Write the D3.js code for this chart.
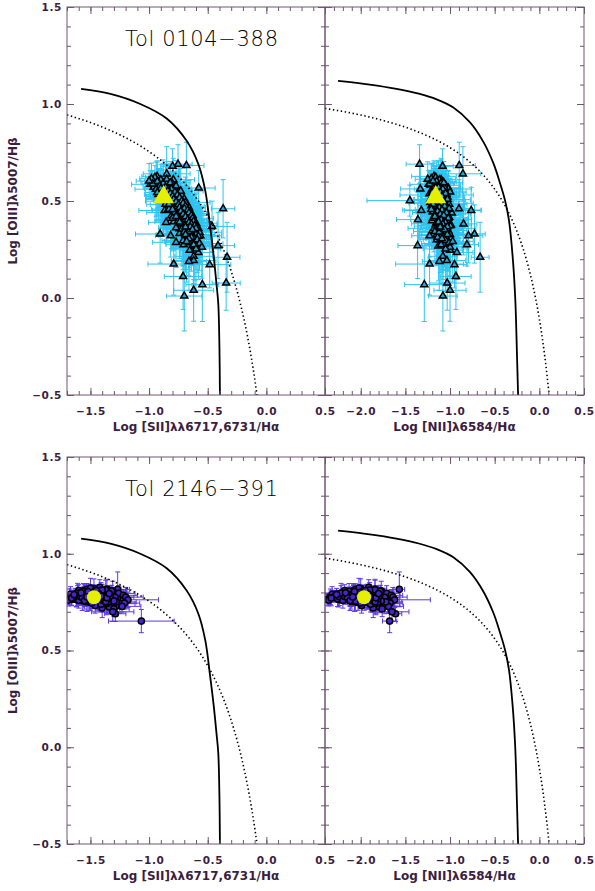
<!DOCTYPE html>
<html lang="en">
<head>
    <title>BPT diagrams: Tol 0104-388 and Tol 2146-391</title>
    <script src="https://d3js.org/d3.v7.min.js" charset="utf-8"></script>
    <style>
    body {
        margin: 0;
        background: #fff;
    }
    svg text {
        font-family: "DejaVu Sans", sans-serif;
    }
    </style>
</head>
<body>
    <script>

    // ---- Tol 0104-388 spaxels (log line ratios and errors) ----
    var tolA_o3 = [0.690,0.683,0.679,0.640,0.627,0.610,0.567,0.562,0.460,0.451,0.451,0.404,0.390,0.382,0.369,0.357,0.330,0.321,0.321,0.305,0.301,0.287,0.275,0.270,0.266,0.246,0.235,0.215,0.210,0.193,0.189,0.175,0.172,0.111,0.077,0.069,0.040,0.010,
        0.622,0.609,0.604,0.598,0.596,0.588,0.583,0.581,0.573,0.571,0.563,0.559,0.556,0.548,0.547,0.538,0.536,0.529,0.524,0.521,0.514,0.511,0.503,0.502,0.494,0.489,0.487,0.478,0.476,0.468,0.466,0.459,0.456,0.449,0.446,0.438,0.436,0.429,0.427,0.418,0.416,0.409,0.406,0.398,0.397,0.388,0.386,0.379,0.376,0.368,0.366,0.358,0.357,0.348,0.346,0.339,0.337,0.328,0.326,0.318,0.309,0.301,0.288,0.281,0.268,0.262,
        0.615,0.601,0.592,0.586,0.577,0.568,0.561,0.552,0.543,0.534,0.527,0.518,0.508,0.499,0.492,0.483,0.474,0.463,0.452,0.443,0.433,0.424,0.413,0.402,0.393,0.383,0.373,0.362,0.352,0.343,0.333,0.323,0.313,0.296,0.285,0.275,0.612,0.594,0.578,0.566,0.551,0.537,0.523,0.507,0.493,0.481,0.471,0.458,0.441,0.428,0.412,0.399,0.384,0.371,0.356,0.341,0.327,0.306,0.292,0.253,
        0.571,0.562,0.553,0.546,0.539,0.531,0.525,0.517,0.509,0.501,0.496,0.488,0.481,0.473,0.467,0.461,0.454,0.447,0.439,0.432,0.426,0.419,0.411,0.404,0.396,0.389,0.381,0.374,0.367,0.359,0.353,0.544,0.512,0.484,0.457,0.421,0.392,0.366,0.588,0.603];
    var tolA_o3err = [0.10,0.12,0.09,0.14,0.08,0.11,0.09,0.13,0.15,0.10,0.12,0.14,0.09,0.16,0.13,0.10,0.15,0.11,0.14,0.12,0.10,0.13,0.11,0.17,0.12,0.09,0.14,0.12,0.18,0.13,0.15,0.16,0.12,0.17,0.14,0.19,0.16,0.18,
        0.06,0.08,0.05,0.09,0.07,0.10,0.06,0.08,0.11,0.07,0.09,0.06,0.08,0.12,0.07,0.09,0.10,0.06,0.08,0.11,0.07,0.09,0.13,0.08,0.10,0.07,0.09,0.12,0.08,0.10,0.14,0.09,0.11,0.08,0.12,0.10,0.09,0.13,0.11,0.10,0.14,0.09,0.12,0.11,0.13,0.10,0.15,0.12,0.11,0.14,0.13,0.12,0.16,0.11,0.14,0.13,0.15,0.12,0.16,0.14,0.13,0.17,0.15,0.14,0.18,0.16,
        0.08,0.10,0.12,0.07,0.09,0.11,0.14,0.08,0.10,0.13,0.09,0.12,0.15,0.10,0.11,0.13,0.16,0.09,0.12,0.14,0.11,0.17,0.10,0.13,0.15,0.12,0.18,0.11,0.14,0.16,0.13,0.19,0.12,0.15,0.17,0.20,0.09,0.11,0.13,0.10,0.12,0.14,0.11,0.16,0.13,0.10,0.15,0.12,0.18,0.14,0.16,0.13,0.17,0.15,0.19,0.14,0.18,0.16,0.21,0.22,
        0.07,0.09,0.08,0.10,0.06,0.11,0.08,0.09,0.12,0.07,0.10,0.08,0.11,0.13,0.09,0.10,0.12,0.08,0.11,0.14,0.10,0.12,0.09,0.13,0.11,0.15,0.10,0.12,0.14,0.11,0.13,0.08,0.09,0.10,0.11,0.12,0.13,0.14,0.07,0.09];
    var tolA_s2 = [-0.753,-0.682,-0.80,-0.85,-0.932,-0.793,-0.577,-0.88,-0.369,-0.867,-0.70,-0.72,-0.855,-0.60,-0.463,-0.739,-0.906,-0.816,-0.563,-0.639,-0.68,-0.770,-0.705,-0.412,-0.60,-0.654,-0.58,-0.620,-0.335,-0.62,-0.66,-0.79,-0.483,-0.710,-0.343,-0.546,-0.62,-0.70,
        -0.95,-0.90,-0.97,-0.86,-0.92,-0.80,-0.95,-0.88,-0.83,-0.96,-0.78,-0.90,-0.85,-0.75,-0.82,-0.88,-0.79,-0.72,-0.84,-0.77,-0.80,-0.70,-0.76,-0.82,-0.73,-0.78,-0.68,-0.75,-0.80,-0.71,-0.66,-0.76,-0.70,-0.74,-0.65,-0.72,-0.68,-0.76,-0.63,-0.70,-0.66,-0.73,-0.62,-0.68,-0.71,-0.64,-0.60,-0.67,-0.70,-0.62,-0.65,-0.58,-0.68,-0.61,-0.64,-0.57,-0.66,-0.60,-0.63,-0.58,-0.62,-0.59,-0.64,-0.57,-0.61,-0.55,
        -0.98,-0.93,-0.88,-0.99,-0.91,-0.84,-0.94,-0.87,-0.81,-0.92,-0.86,-0.79,-0.89,-0.83,-0.76,-0.86,-0.81,-0.74,-0.84,-0.78,-0.72,-0.81,-0.75,-0.69,-0.79,-0.73,-0.67,-0.77,-0.71,-0.66,-0.74,-0.69,-0.64,-0.71,-0.66,-0.62,-0.85,-0.82,-0.77,-0.90,-0.73,-0.80,-0.86,-0.74,-0.69,-0.81,-0.76,-0.83,-0.78,-0.72,-0.80,-0.75,-0.73,-0.68,-0.72,-0.70,-0.69,-0.66,-0.68,-0.60,
        -0.86,-0.81,-0.84,-0.78,-0.82,-0.76,-0.80,-0.74,-0.79,-0.72,-0.77,-0.71,-0.75,-0.69,-0.74,-0.70,-0.67,-0.73,-0.66,-0.71,-0.64,-0.69,-0.63,-0.67,-0.62,-0.66,-0.64,-0.61,-0.65,-0.60,-0.63,-0.93,-0.89,-0.83,-0.80,-0.77,-0.74,-0.69,-0.97,-1.00];
    var tolA_s2err = [0.12,0.15,0.10,0.20,0.13,0.18,0.14,0.16,0.10,0.22,0.12,0.17,0.15,0.11,0.19,0.14,0.21,0.13,0.18,0.16,0.12,0.20,0.15,0.14,0.17,0.09,0.13,0.16,0.11,0.19,0.15,0.22,0.18,0.16,0.12,0.14,0.17,0.15,
        0.08,0.10,0.07,0.12,0.09,0.11,0.08,0.13,0.10,0.09,0.14,0.08,0.11,0.12,0.10,0.09,0.13,0.11,0.08,0.15,0.10,0.12,0.09,0.14,0.11,0.13,0.10,0.16,0.12,0.09,0.14,0.11,0.13,0.10,0.15,0.12,0.17,0.11,0.14,0.13,0.10,0.16,0.12,0.15,0.11,0.14,0.18,0.13,0.12,0.16,0.14,0.11,0.17,0.15,0.13,0.19,0.12,0.16,0.14,0.18,0.15,0.13,0.17,0.20,0.14,0.16,
        0.10,0.14,0.12,0.16,0.09,0.13,0.18,0.11,0.15,0.12,0.17,0.10,0.14,0.20,0.12,0.16,0.11,0.19,0.13,0.15,0.22,0.14,0.12,0.18,0.16,0.13,0.21,0.15,0.17,0.19,0.14,0.23,0.16,0.18,0.20,0.15,0.12,0.17,0.10,0.14,0.19,0.13,0.16,0.11,0.21,0.18,0.12,0.15,0.24,0.17,0.14,0.20,0.16,0.22,0.13,0.18,0.25,0.15,0.19,0.21,
        0.09,0.12,0.10,0.14,0.08,0.11,0.13,0.10,0.15,0.12,0.09,0.14,0.11,0.16,0.10,0.13,0.12,0.17,0.11,0.14,0.15,0.12,0.18,0.13,0.11,0.16,0.14,0.19,0.12,0.15,0.17,0.10,0.13,0.11,0.14,0.12,0.16,0.15,0.09,0.11];
    var tolA_n2 = [-1.341,-0.897,-1.084,-0.856,-1.18,-1.10,-1.02,-1.333,-0.90,-1.322,-0.763,-1.359,-1.15,-0.849,-1.05,-1.10,-0.726,-1.229,-0.793,-1.12,-1.147,-1.06,-0.811,-1.363,-1.035,-1.00,-0.923,-1.08,-0.663,-1.035,-1.12,-1.229,-0.950,-0.934,-1.032,-1.288,-1.00,-1.08,
        -1.16,-1.12,-1.20,-1.08,-1.14,-1.10,-1.22,-1.05,-1.17,-1.12,-1.02,-1.19,-1.09,-1.14,-1.00,-1.23,-1.11,-1.06,-1.16,-1.03,-1.20,-1.09,-1.13,-1.45,-1.18,-1.07,-1.12,-1.04,-1.21,-1.10,-1.02,-1.15,-1.06,-1.19,-1.08,-0.98,-1.13,-1.05,-1.17,-1.09,-1.01,-1.14,-1.06,-1.20,-1.03,-1.11,-1.07,-1.16,-0.99,-1.12,-1.05,-1.18,-1.08,-1.02,-1.13,-1.06,-1.10,-1.00,-1.15,-1.08,-1.04,-1.11,-1.02,-1.07,-1.13,-1.00,
        -1.21,-1.15,-1.10,-1.24,-1.18,-1.06,-1.13,-1.20,-1.08,-1.16,-1.11,-1.04,-1.22,-1.09,-1.14,-1.01,-1.17,-1.07,-1.12,-1.19,-1.05,-1.10,-1.15,-1.03,-1.08,-1.13,-1.00,-1.11,-1.06,-1.17,-1.03,-1.09,-1.14,-1.05,-1.01,-1.10,-1.25,-1.07,-1.13,-1.18,-1.11,-1.04,-1.16,-1.09,-1.22,-1.06,-1.12,-1.02,-1.15,-1.08,-1.19,-1.04,-1.10,-1.14,-1.07,-1.12,-1.03,-1.09,-0.97,-1.05,
        -1.13,-1.08,-1.17,-1.11,-1.05,-1.15,-1.09,-1.12,-1.03,-1.14,-1.07,-1.10,-1.18,-1.06,-1.12,-1.01,-1.09,-1.14,-1.04,-1.11,-1.07,-1.16,-1.02,-1.10,-1.13,-1.05,-1.08,-1.12,-1.03,-1.09,-1.06,-1.20,-1.15,-1.19,-1.21,-1.17,-1.13,-1.11,-1.23,-1.19];
    var tolA_n2err = [0.15,0.18,0.12,0.20,0.25,0.16,0.14,0.22,0.13,0.19,0.11,0.24,0.17,0.15,0.21,0.18,0.12,0.20,0.16,0.23,0.19,0.15,0.13,0.22,0.17,0.14,0.18,0.16,0.10,0.21,0.19,0.38,0.14,0.17,0.20,0.22,0.18,0.16,
        0.10,0.13,0.09,0.15,0.11,0.14,0.12,0.17,0.10,0.13,0.16,0.11,0.14,0.12,0.18,0.10,0.15,0.13,0.11,0.19,0.12,0.16,0.14,0.48,0.13,0.17,0.12,0.20,0.15,0.11,0.18,0.14,0.16,0.12,0.21,0.15,0.13,0.19,0.16,0.14,0.22,0.12,0.17,0.15,0.20,0.13,0.18,0.16,0.23,0.14,0.19,0.17,0.15,0.21,0.18,0.16,0.24,0.14,0.20,0.17,0.22,0.19,0.16,0.25,0.18,0.21,
        0.12,0.18,0.15,0.21,0.13,0.17,0.24,0.14,0.19,0.16,0.22,0.13,0.18,0.26,0.15,0.20,0.14,0.23,0.17,0.19,0.28,0.16,0.14,0.21,0.19,0.30,0.17,0.22,0.15,0.24,0.18,0.27,0.20,0.16,0.23,0.19,0.14,0.21,0.13,0.17,0.25,0.15,0.20,0.32,0.18,0.22,0.16,0.19,0.27,0.21,0.17,0.24,0.20,0.26,0.15,0.22,0.29,0.18,0.23,0.25,
        0.11,0.32,0.13,0.18,0.10,0.41,0.16,0.12,0.19,0.15,0.11,0.36,0.14,0.20,0.13,0.16,0.44,0.21,0.14,0.18,0.19,0.15,0.22,0.34,0.14,0.20,0.18,0.23,0.16,0.38,0.21,0.13,0.16,0.14,0.18,0.15,0.20,0.19,0.12,0.14];

    // ---- Tol 2146-391 spaxels ----
    var tolB_o3 = [0.652,0.816,0.690,0.764,0.780,0.775,0.790,0.770,0.785,0.760,0.795,0.800,0.805,0.810,0.765,0.755,0.750,0.745,0.740,0.735,0.772,0.768,0.782,0.792,0.798,0.815,0.820,0.812,0.788,0.778,0.762,0.752,0.748,0.758,0.742,0.730,0.725,0.738,0.803,0.808,0.795,0.785,0.776,0.762,0.745,0.772,0.795,0.783,0.767,0.788,0.773,0.757,0.818,0.826,0.810,0.733,0.720,0.715,0.728,0.700,0.760,0.790,0.780,0.770,
        0.781,0.794,0.769,0.803,0.757,0.786,0.774,0.811,0.763,0.799,0.777,0.752,0.791,0.766,0.806,0.784,0.771,0.748,0.797,0.779,0.761,0.789,0.813,0.754,0.775,0.802,0.767,0.743,0.793,0.783,0.759,0.807,0.771,0.787,0.751,0.796,0.764,0.779,0.823,0.739,0.782,0.769,0.801,0.756,0.791,0.776,0.812,0.749,0.786,0.766,
        0.778,0.791,0.767,0.784,0.802,0.759,0.773,0.796,0.781,0.764,0.788,0.807,0.771,0.755,0.793,0.779,0.766,0.799,0.785,0.761,0.774,0.809,0.787,0.752,0.797,0.769,0.783,0.758,0.792,0.776,0.804,0.763,0.789,0.772,0.746,0.798,0.781,0.768,0.794,0.777];
    var tolB_o3err = [0.06,0.09,0.04,0.03,0.03,0.02,0.03,0.04,0.02,0.03,0.03,0.04,0.02,0.03,0.04,0.03,0.02,0.04,0.03,0.05,0.03,0.04,0.02,0.03,0.04,0.03,0.05,0.03,0.02,0.04,0.03,0.02,0.04,0.03,0.05,0.04,0.03,0.04,0.03,0.05,0.04,0.03,0.05,0.04,0.03,0.02,0.04,0.03,0.02,0.03,0.04,0.03,0.05,0.04,0.03,0.04,0.05,0.04,0.03,0.05,0.03,0.04,0.02,0.03,
        0.03,0.02,0.04,0.03,0.05,0.02,0.03,0.04,0.03,0.02,0.04,0.05,0.03,0.02,0.04,0.03,0.05,0.04,0.03,0.02,0.04,0.03,0.05,0.04,0.03,0.02,0.04,0.05,0.03,0.04,0.02,0.03,0.04,0.05,0.03,0.04,0.02,0.03,0.05,0.04,0.03,0.04,0.02,0.05,0.03,0.04,0.03,0.02,0.04,0.05,
        0.03,0.02,0.04,0.03,0.02,0.04,0.03,0.05,0.02,0.03,0.04,0.03,0.02,0.05,0.03,0.04,0.02,0.03,0.04,0.05,0.03,0.02,0.04,0.03,0.05,0.02,0.04,0.03,0.02,0.04,0.03,0.05,0.02,0.04,0.03,0.02,0.05,0.03,0.04,0.02];
    var tolB_s2 = [-1.066,-1.268,-1.288,-1.66,-1.60,-1.55,-1.52,-1.45,-1.48,-1.42,-1.58,-1.50,-1.44,-1.55,-1.62,-1.38,-1.40,-1.35,-1.32,-1.36,-1.30,-1.27,-1.33,-1.40,-1.46,-1.53,-1.47,-1.41,-1.65,-1.68,-1.57,-1.50,-1.44,-1.29,-1.25,-1.28,-1.34,-1.39,-1.37,-1.31,-1.26,-1.22,-1.20,-1.18,-1.21,-1.63,-1.61,-1.56,-1.53,-1.43,-1.39,-1.34,-1.36,-1.42,-1.60,-1.46,-1.40,-1.30,-1.23,-1.31,-1.69,-1.67,-1.49,-1.37,
        -1.64,-1.59,-1.54,-1.49,-1.57,-1.44,-1.51,-1.41,-1.61,-1.47,-1.38,-1.53,-1.35,-1.46,-1.56,-1.33,-1.43,-1.50,-1.40,-1.58,-1.31,-1.48,-1.37,-1.55,-1.29,-1.45,-1.62,-1.36,-1.42,-1.52,-1.39,-1.32,-1.66,-1.47,-1.28,-1.54,-1.44,-1.34,-1.50,-1.41,-1.59,-1.37,-1.45,-1.30,-1.63,-1.49,-1.40,-1.35,-1.57,-1.43,
        -1.62,-1.58,-1.55,-1.51,-1.47,-1.60,-1.44,-1.53,-1.49,-1.41,-1.56,-1.46,-1.38,-1.52,-1.43,-1.59,-1.35,-1.48,-1.54,-1.40,-1.57,-1.45,-1.50,-1.37,-1.61,-1.42,-1.33,-1.55,-1.47,-1.39,-1.52,-1.44,-1.64,-1.36,-1.49,-1.58,-1.41,-1.46,-1.34,-1.53];
    var tolB_s2err = [0.28,0.10,0.09,0.12,0.08,0.06,0.07,0.09,0.05,0.08,0.10,0.07,0.09,0.06,0.11,0.08,0.07,0.10,0.09,0.12,0.11,0.10,0.08,0.07,0.06,0.09,0.10,0.08,0.12,0.13,0.07,0.06,0.08,0.11,0.13,0.10,0.09,0.08,0.10,0.12,0.14,0.12,0.15,0.26,0.13,0.09,0.08,0.07,0.06,0.09,0.10,0.11,0.12,0.09,0.08,0.10,0.11,0.13,0.16,0.18,0.10,0.09,0.07,0.08,
        0.08,0.06,0.10,0.07,0.09,0.12,0.06,0.11,0.08,0.07,0.13,0.09,0.10,0.06,0.08,0.14,0.07,0.11,0.09,0.12,0.15,0.08,0.10,0.07,0.16,0.09,0.11,0.12,0.08,0.06,0.10,0.13,0.09,0.07,0.17,0.08,0.11,0.12,0.06,0.09,0.10,0.13,0.07,0.14,0.08,0.06,0.11,0.12,0.09,0.10,
        0.07,0.09,0.06,0.10,0.08,0.11,0.07,0.09,0.12,0.06,0.10,0.08,0.13,0.07,0.09,0.11,0.06,0.10,0.08,0.12,0.07,0.09,0.11,0.06,0.10,0.08,0.13,0.07,0.09,0.11,0.08,0.10,0.06,0.12,0.09,0.07,0.11,0.08,0.10,0.06];
    var tolB_n2 = [-1.676,-1.568,-1.610,-2.375,-2.20,-2.10,-2.05,-1.95,-2.00,-1.90,-2.15,-2.02,-1.97,-2.08,-2.25,-1.85,-1.88,-1.80,-1.78,-1.83,-1.75,-1.72,-1.82,-1.92,-1.98,-2.06,-2.00,-1.93,-2.30,-2.34,-2.12,-2.03,-1.96,-1.74,-1.70,-1.73,-1.79,-1.87,-1.86,-1.77,-1.71,-1.66,-1.64,-1.62,-1.67,-2.28,-2.22,-2.14,-2.07,-1.94,-1.89,-1.81,-1.84,-1.91,-2.18,-1.99,-1.86,-1.76,-1.69,-1.65,-2.36,-2.32,-2.01,-1.84,
        -2.29,-2.17,-2.09,-2.01,-2.12,-1.95,-2.04,-1.90,-2.24,-1.99,-1.86,-2.07,-1.82,-1.97,-2.13,-1.79,-1.93,-2.03,-1.88,-2.19,-1.76,-2.00,-1.84,-2.11,-1.73,-1.96,-2.26,-1.83,-1.91,-2.06,-1.87,-1.78,-2.33,-1.98,-1.72,-2.08,-1.94,-1.80,-2.02,-1.89,-2.21,-1.85,-1.96,-1.77,-2.27,-2.00,-1.90,-1.81,-2.16,-1.92,
        -2.24,-2.16,-2.11,-2.05,-1.99,-2.20,-1.94,-2.08,-2.02,-1.89,-2.13,-1.97,-1.85,-2.06,-1.92,-2.18,-1.81,-2.01,-2.10,-1.88,-2.15,-1.95,-2.04,-1.84,-2.22,-1.91,-1.79,-2.12,-1.98,-1.86,-2.07,-1.93,-2.27,-1.83,-2.00,-2.17,-1.90,-1.96,-1.80,-2.09];
    var tolB_n2err = [0.08,0.06,0.07,0.12,0.09,0.07,0.08,0.10,0.06,0.09,0.11,0.08,0.10,0.07,0.12,0.09,0.08,0.11,0.10,0.13,0.12,0.11,0.09,0.08,0.07,0.10,0.11,0.09,0.13,0.14,0.08,0.07,0.09,0.12,0.14,0.11,0.10,0.09,0.11,0.13,0.15,0.13,0.16,0.40,0.14,0.10,0.09,0.08,0.07,0.10,0.11,0.12,0.13,0.10,0.09,0.11,0.12,0.14,0.17,0.19,0.11,0.10,0.08,0.09,
        0.09,0.07,0.11,0.08,0.10,0.13,0.07,0.12,0.09,0.08,0.14,0.10,0.11,0.07,0.09,0.15,0.08,0.12,0.10,0.13,0.16,0.09,0.11,0.08,0.17,0.10,0.12,0.13,0.09,0.07,0.11,0.14,0.10,0.08,0.18,0.09,0.12,0.13,0.07,0.10,0.11,0.14,0.08,0.15,0.09,0.07,0.12,0.13,0.10,0.11,
        0.08,0.10,0.07,0.11,0.09,0.12,0.08,0.10,0.13,0.07,0.11,0.09,0.14,0.08,0.10,0.12,0.07,0.11,0.09,0.13,0.08,0.10,0.12,0.07,0.11,0.09,0.14,0.08,0.10,0.12,0.09,0.11,0.07,0.13,0.10,0.08,0.12,0.09,0.11,0.07];

    // integrated values (big yellow symbols): [Tol 0104-388, Tol 2146-391]
    var integ_o3 = [0.520, 0.775];
    var integ_s2 = [-0.876, -1.470];
    var integ_n2 = [-1.160, -1.963];

    // solid demarcation curves
    var solid_s2 = [[-1.58,1.078],[-1.33,1.052],[-1.075,1.000],[-0.85,0.925],[-0.68,0.810],[-0.58,0.690],[-0.52,0.550],[-0.48,0.370],[-0.45,0.220],[-0.425,0.070],[-0.41,-0.030],[-0.40,-0.260],[-0.396,-0.50]];
    var solid_n2 = [[-2.254,1.119],[-1.90,1.100],[-1.60,1.078],[-1.35,1.053],[-1.15,1.024],[-0.963,0.982],[-0.776,0.905],[-0.627,0.805],[-0.515,0.695],[-0.44,0.592],[-0.384,0.503],[-0.34,0.400],[-0.30,0.220],[-0.27,0.000],[-0.25,-0.300],[-0.238,-0.50]];

    // Kewley et al. (2001) maximum starburst lines: y = a/(x - b) + c
    var kewley_s2 = {a: 0.72, b: 0.32, c: 1.30};
    var kewley_n2 = {a: 0.61, b: 0.47, c: 1.19};

    var xTicks_s2 = [-1.5, -1.0, -0.5, 0.0, 0.5];
    var xTicks_n2 = [-2.0, -1.5, -1.0, -0.5, 0.0, 0.5];
    var yTicks = [-0.5, 0.0, 0.5, 1.0, 1.5];

    var titles = ["Tol 0104\u2212388", "Tol 2146\u2212391"];

    // ---------------------------------------------------------------
    var width = 595, height = 891;
    var axisColor = "#6e5670", labelColor = "#3b1d3f";

    var cols = [
        {x0: 67, x1: 325, dom: [-1.7, 0.5], ticks: xTicks_s2, key: "s2", label: "Log [SII]\u03bb\u03bb6717,6731/H\u03b1", kew: kewley_s2, solid: solid_s2},
        {x0: 325, x1: 584, dom: [-2.4, 0.5], ticks: xTicks_n2, key: "n2", label: "Log [NII]\u03bb6584/H\u03b1", kew: kewley_n2, solid: solid_n2}
    ];
    var rows = [
        {y0: 7, y1: 395, marker: "tri", bar: "#30c4f0", fill: "#2ba3d0"},
        {y0: 457, y1: 844, marker: "circ", bar: "#5a38e6", fill: "#4724cf"}
    ];

    var galaxies = [
        {o3: tolA_o3, o3e: tolA_o3err, s2: tolA_s2, s2e: tolA_s2err, n2: tolA_n2, n2e: tolA_n2err},
        {o3: tolB_o3, o3e: tolB_o3err, s2: tolB_s2, s2e: tolB_s2err, n2: tolB_n2, n2e: tolB_n2err}
    ];

    var svg = d3.select("body")
        .append("svg")
        .attr("width", width)
        .attr("height", height);

    var fmt = d3.format(".1f");

    function styleAxis(g, labels) {
        g.select(".domain").remove();
        g.selectAll("line").attr("stroke", axisColor).attr("stroke-width", 1);
        g.selectAll("text")
            .attr("fill", labelColor)
            .attr("font-size", "10.5px")
            .attr("font-weight", "bold")
            .attr("letter-spacing", "0.6px");
        if (!labels) g.selectAll("text").remove();
    }

    rows.forEach(function(row, ri) {
        var gal = galaxies[ri];
        var n = gal.o3.length;

        cols.forEach(function(col, ci) {
            var x = d3.scaleLinear().domain(col.dom).range([col.x0, col.x1]);
            var y = d3.scaleLinear().domain([-0.5, 1.5]).range([row.y1, row.y0]);
            var g = svg.append("g");
            var clipId = "clip" + ri + ci;

            svg.append("clipPath").attr("id", clipId)
                .append("rect")
                .attr("x", col.x0).attr("y", row.y0)
                .attr("width", col.x1 - col.x0).attr("height", row.y1 - row.y0);

            var plot = g.append("g").attr("clip-path", "url(#" + clipId + ")");

            // spaxel data for this panel
            var pts = [];
            for (var i = 0; i < n; i++) {
                pts.push({x: gal[col.key][i], xe: gal[col.key + "e"][i], y: gal.o3[i], ye: gal.o3e[i]});
            }

            var cap = 2.5;
            plot.append("g").selectAll("path")
                .data(pts)
                .enter()
                .append("path")
                .attr("fill", "none")
                .attr("stroke", row.bar)
                .attr("stroke-width", 1)
                .attr("d", function(d) {
                    var px = x(d.x), py = y(d.y);
                    var xl = x(d.x - d.xe), xr = x(d.x + d.xe);
                    var yt = y(d.y + d.ye), yb = y(d.y - d.ye);
                    return "M" + xl + "," + py + "H" + xr +
                        "M" + xl + "," + (py - cap) + "V" + (py + cap) +
                        "M" + xr + "," + (py - cap) + "V" + (py + cap) +
                        "M" + px + "," + yt + "V" + yb +
                        "M" + (px - cap) + "," + yt + "H" + (px + cap) +
                        "M" + (px - cap) + "," + yb + "H" + (px + cap);
                });

            var sym = row.marker == "tri" ? d3.symbolTriangle : d3.symbolCircle;
            var small = row.marker == "tri" ? 22 : 30;
            var big = row.marker == "tri" ? 190 : 155;

            plot.append("g").selectAll("path")
                .data(pts)
                .enter()
                .append("path")
                .attr("transform", function(d) { return "translate(" + x(d.x) + "," + y(d.y) + ")"; })
                .attr("d", d3.symbol(sym, small))
                .attr("fill", row.fill)
                .attr("stroke", "#000")
                .attr("stroke-width", 1.5);

            // curves
            var line = d3.line()
                .x(function(d) { return x(d[0]); })
                .y(function(d) { return y(d[1]); });

            var k = col.kew;
            var xEnd = k.b + k.a / (-0.5 - k.c);
            var kx = d3.range(col.dom[0], xEnd, 0.01).concat([xEnd]);
            plot.append("path")
                .datum(kx.map(function(v) { return [v, k.a / (v - k.b) + k.c]; }))
                .attr("fill", "none")
                .attr("stroke", "#000")
                .attr("stroke-width", 1.6)
                .attr("stroke-dasharray", "1.4,2.6")
                .attr("d", line);

            plot.append("path")
                .datum(col.solid)
                .attr("fill", "none")
                .attr("stroke", "#000")
                .attr("stroke-width", 1.8)
                .attr("d", line.curve(d3.curveCatmullRom));

            // integrated measurement
            var intX = ci == 0 ? integ_s2[ri] : integ_n2[ri];
            plot.append("path")
                .attr("transform", "translate(" + x(intX) + "," + y(integ_o3[ri]) + ")")
                .attr("d", d3.symbol(sym, big))
                .attr("fill", "#e4f000");

            // frame
            g.append("rect")
                .attr("x", col.x0).attr("y", row.y0)
                .attr("width", col.x1 - col.x0).attr("height", row.y1 - row.y0)
                .attr("fill", "none")
                .attr("stroke", axisColor)
                .attr("stroke-width", 1);

            // ticks on all four sides, pointing inwards
            var xMinor = d3.range(Math.round(col.dom[0] * 10), Math.round(col.dom[1] * 10) + 1).map(function(v) { return v / 10; });
            var yMinor = d3.range(-5, 16).map(function(v) { return v / 10; });

            [[d3.axisBottom, row.y1, true], [d3.axisTop, row.y0, false]].forEach(function(a) {
                g.append("g").attr("transform", "translate(0," + a[1] + ")")
                    .call(a[0](x).tickValues(xMinor).tickSizeInner(-4).tickSizeOuter(0).tickFormat(""))
                    .call(styleAxis, false);
                g.append("g").attr("transform", "translate(0," + a[1] + ")")
                    .call(a[0](x).tickValues(col.ticks).tickSizeInner(-7).tickSizeOuter(0).tickPadding(13).tickFormat(fmt))
                    .call(styleAxis, a[2]);
            });
            [[d3.axisLeft, col.x0, ci == 0], [d3.axisRight, col.x1, false]].forEach(function(a) {
                g.append("g").attr("transform", "translate(" + a[1] + ",0)")
                    .call(a[0](y).tickValues(yMinor).tickSizeInner(-4).tickSizeOuter(0).tickFormat(""))
                    .call(styleAxis, false);
                g.append("g").attr("transform", "translate(" + a[1] + ",0)")
                    .call(a[0](y).tickValues(yTicks).tickSizeInner(-7).tickSizeOuter(0).tickPadding(5).tickFormat(fmt))
                    .call(styleAxis, a[2]);
            });

            // x title
            g.append("text")
                .attr("x", (col.x0 + col.x1) / 2)
                .attr("y", row.y1 + 36)
                .attr("text-anchor", "middle")
                .attr("font-size", "12px")
                .attr("font-weight", "bold")
                .attr("fill", labelColor)
                .text(col.label);
        });

        // y title
        svg.append("text")
            .attr("transform", "translate(17," + (row.y0 + row.y1) / 2 + ") rotate(-90)")
            .attr("text-anchor", "middle")
            .attr("font-size", "12px")
            .attr("font-weight", "bold")
            .attr("fill", labelColor)
            .text("Log [OIII]\u03bb5007/H\u03b2");

        // galaxy name
        svg.append("text")
            .attr("x", 125)
            .attr("y", row.y0 + 39)
            .attr("font-size", "21px")
            .attr("font-weight", 200)
            .attr("textLength", 153)
            .attr("lengthAdjust", "spacing")
            .attr("fill", "#000")
            .text(titles[ri]);
    });

    </script>
</body>
</html>
